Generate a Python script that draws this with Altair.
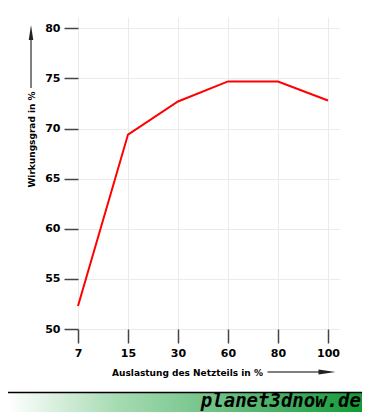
import altair as alt
import pandas as pd

loads = ["7", "15", "30", "60", "80", "100"]
efficiency = [52.3, 69.4, 72.7, 74.7, 74.7, 72.8]
y_ticks = [50, 55, 60, 65, 70, 75, 80]
x_title = "Auslastung des Netzteils in %"
y_title = "Wirkungsgrad in %"
brand = "planet3dnow.de"

df = pd.DataFrame({"idx": list(range(len(loads))), "load": loads, "eff": efficiency})
one = pd.DataFrame({"k": [0]})

W, H = 262, 312
FONT = "DejaVu Sans"
label_array = "[" + ",".join("'" + s + "'" for s in loads) + "]"

x_enc = alt.X(
    "idx:Q",
    scale=alt.Scale(domain=[0, 5.24], nice=False, zero=False),
    axis=alt.Axis(
        title=x_title, values=list(range(len(loads))), labelExpr=label_array + "[datum.value]",
        labelAngle=0, domain=False, grid=True, gridColor="#ebebeb",
        tickSize=14, tickColor="#444444", tickWidth=1.5,
        labelFont=FONT, labelFontWeight="bold", labelFontSize=11, labelColor="#000000",
        labelPadding=4, labelFlush=False, labelOverlap=False,
        titleFont=FONT, titleFontWeight="bold", titleFontSize=9, titleColor="#000000",
        titleX=109, titleY=43, titleAlign="center", titleBaseline="middle",
    ),
)
y_enc = alt.Y(
    "eff:Q",
    scale=alt.Scale(domain=[50, 81.13], nice=False, zero=False),
    axis=alt.Axis(
        title=y_title, values=y_ticks, domain=False, grid=True, gridColor="#ebebeb",
        tickSize=14, tickColor="#444444", tickWidth=1.5,
        labelFont=FONT, labelFontWeight="bold", labelFontSize=11, labelColor="#000000",
        labelPadding=4, labelFlush=False, labelOverlap=False,
        titleFont=FONT, titleFontWeight="bold", titleFontSize=9, titleColor="#000000",
        titleX=-47, titleY=122, titleAngle=-90, titleAlign="center", titleBaseline="middle",
    ),
)

line = alt.Chart(df).mark_line(color="#ff0000", strokeWidth=2).encode(x=x_enc, y=y_enc)

base = alt.Chart(one)

y_arrow_line = base.mark_rule(color="#000000", strokeWidth=1).encode(
    x=alt.value(-47), y=alt.value(71), y2=alt.value(20))
y_arrow_head = base.mark_point(
    shape="M0,-1L0.3,1L-0.3,1Z", filled=True, color="#222222", opacity=1, size=225
).encode(x=alt.value(-47), y=alt.value(15.5))

x_arrow_line = base.mark_rule(color="#000000", strokeWidth=1).encode(
    x=alt.value(189.5), x2=alt.value(245), y=alt.value(355))
x_arrow_head = base.mark_point(
    shape="M1,0L-1,-0.3L-1,0.3Z", filled=True, color="#222222", opacity=1, size=289
).encode(x=alt.value(249), y=alt.value(355))

banner = base.mark_rect(
    color=alt.LinearGradient(
        gradient="linear",
        stops=[
            alt.GradientStop(color="#ffffff", offset=0),
            alt.GradientStop(color="#a8dcb4", offset=0.3),
            alt.GradientStop(color="#6cc084", offset=0.6),
            alt.GradientStop(color="#139a36", offset=1),
        ],
        x1=0, x2=1, y1=0, y2=0,
    )
).encode(x=alt.value(-70), x2=alt.value(284), y=alt.value(376), y2=alt.value(395))

banner_line = base.mark_rule(color="#000000", strokeWidth=1.5).encode(
    x=alt.value(-70), x2=alt.value(284), y=alt.value(375.5))

brand_text = base.mark_text(
    text=brand, font="DejaVu Sans Mono", fontStyle="italic", fontWeight="bold",
    fontSize=19, align="right", baseline="alphabetic", color="#000000"
).encode(x=alt.value(283), y=alt.value(390))

chart = alt.layer(
    line, y_arrow_line, y_arrow_head, x_arrow_line, x_arrow_head,
    banner, banner_line, brand_text
).properties(
    width=W, height=H,
    padding={"left": 70, "top": 9, "right": 22, "bottom": 83},
    autosize=alt.AutoSizeParams(type="none"),
    background="#ffffff",
).configure_view(stroke=None)

chart.save("out.html", embed_options={"renderer": "svg", "actions": False})
